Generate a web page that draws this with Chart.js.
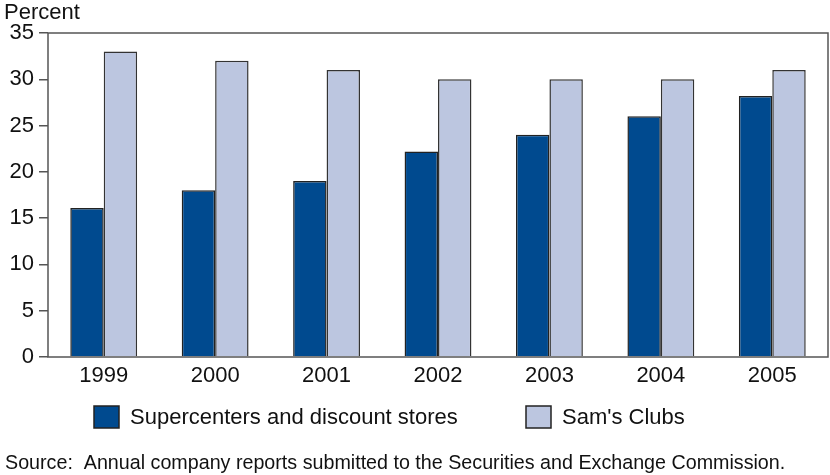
<!DOCTYPE html>
<html>
<head>
<meta charset="utf-8">
<script src="https://cdn.jsdelivr.net/npm/chart.js@4"></script>
<style>
    body { margin: 0; background: #ffffff; }
    #grafico-box { width: 830px; height: 475px; }
</style>
</head>
<body>
<div id="grafico-box">
    <canvas id="myChart" width="830" height="475"></canvas>
</div>
<script>
const anos = ['1999', '2000', '2001', '2002', '2003', '2004', '2005'];
const supercenters = [16.1, 18, 19, 22.2, 24, 26, 28.2];
const samsClubs = [33, 32, 31, 30, 30, 30, 31];
const ticksY = [0, 5, 10, 15, 20, 25, 30, 35];

const fonte = 'Liberation Sans, Arial, Helvetica, sans-serif';

// moldura, titulo, legenda e fonte desenhados a mao
const extras = {
    id: 'extras',
    afterDraw(chart) {
        const ctx = chart.ctx;
        const area = chart.chartArea;

        ctx.save();
        ctx.strokeStyle = '#555555';
        ctx.lineWidth = 1.5;
        ctx.strokeRect(area.left, area.top, area.right - area.left, area.bottom - area.top);

        ctx.fillStyle = '#111111';
        ctx.font = '22px ' + fonte;
        ctx.textBaseline = 'alphabetic';
        ctx.textAlign = 'left';
        ctx.fillText('Percent', 4, 19);

        const posLegenda = [94, 526];
        chart.data.datasets.forEach(function (ds, i) {
            ctx.fillStyle = ds.backgroundColor;
            ctx.fillRect(posLegenda[i], 406, 25, 22);
            ctx.strokeStyle = '#222222';
            ctx.lineWidth = 1.5;
            ctx.strokeRect(posLegenda[i], 406, 25, 22);
            ctx.fillStyle = '#111111';
            ctx.textBaseline = 'middle';
            ctx.fillText(ds.label, posLegenda[i] + 36, 418);
        });

        ctx.font = '19.7px ' + fonte;
        ctx.fillText('Source:  Annual company reports submitted to the Securities and Exchange Commission.', 5, 464);
        ctx.restore();
    }
};

const data = {
    labels: anos,
    datasets: [{
        label: 'Supercenters and discount stores',
        data: supercenters,
        backgroundColor: '#004a8f',
        borderColor: '#222222',
        borderWidth: 1.5
    },
    {
        label: "Sam's Clubs",
        data: samsClubs,
        backgroundColor: '#bcc6e0',
        borderColor: '#333333',
        borderWidth: 1.5
    }]
};

const config = {
    type: 'bar',
    data: data,
    options: {
        responsive: false,
        animation: false,
        layout: { padding: { top: 33, right: 2, bottom: 88, left: 0 } },
        datasets: {
            bar: { categoryPercentage: 0.6, barPercentage: 1 }
        },
        plugins: {
            legend: { display: false },
            tooltip: { enabled: false }
        },
        scales: {
            x: {
                grid: { display: false, drawTicks: false },
                border: { display: false },
                ticks: { color: '#111111', font: { family: fonte, size: 22 }, padding: 6 },
                afterFit: function (scale) { scale.height = 30; }
            },
            y: {
                min: 0,
                max: 35,
                afterBuildTicks: function (scale) {
                    scale.ticks = ticksY.map(function (v) { return { value: v }; });
                },
                grid: { drawOnChartArea: false, drawTicks: true, tickLength: 9, color: '#555555', lineWidth: 1.5 },
                border: { display: false },
                ticks: { color: '#111111', font: { family: fonte, size: 22 }, padding: 5 },
                afterFit: function (scale) { scale.width = 48; }
            }
        }
    },
    plugins: [extras]
};

const myChart = new Chart(document.getElementById('myChart'), config);
</script>
</body>
</html>
